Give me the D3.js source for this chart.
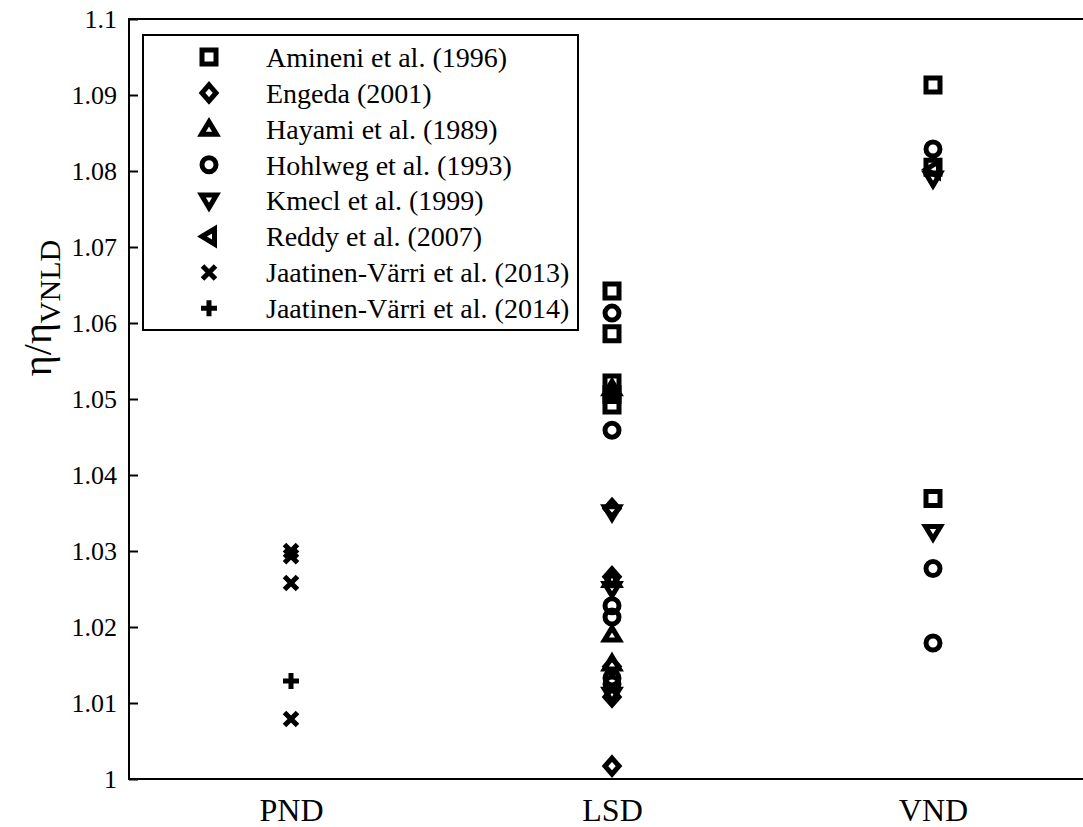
<!DOCTYPE html>
<html><head><meta charset="utf-8">
<script src="https://cdn.jsdelivr.net/npm/d3@7"></script>
<style>
html,body{margin:0;padding:0;background:#fff;}
svg{display:block;}
text{font-family:"Liberation Serif","Times New Roman",serif;fill:#000;}
</style></head>
<body>
<svg id="chart" width="1083" height="827"></svg>
<script>
// ---------- data ----------
const categories = ["PND", "LSD", "VND"];
const yTickValues = [1, 1.01, 1.02, 1.03, 1.04, 1.05, 1.06, 1.07, 1.08, 1.09, 1.1];
const yTickLabels = ["1", "1.01", "1.02", "1.03", "1.04", "1.05", "1.06", "1.07", "1.08", "1.09", "1.1"];
const seriesNames = ["Amineni et al. (1996)", "Engeda (2001)", "Hayami et al. (1989)", "Hohlweg et al. (1993)",
  "Kmecl et al. (1999)", "Reddy et al. (2007)", "Jaatinen-Värri et al. (2013)", "Jaatinen-Värri et al. (2014)"];
const seriesMarkers = ["square", "diamond", "triUp", "circle", "triDown", "triLeft", "cross", "plus"];

const amineniData = [["LSD",1.0642],["LSD",1.0586],["LSD",1.0521],["LSD",1.0506],["LSD",1.0492],
                     ["VND",1.0913],["VND",1.0805],["VND",1.0369]];
const engedaData  = [["LSD",1.0356],["LSD",1.0266],["LSD",1.0148],["LSD",1.0108],["LSD",1.0017]];
const hayamiData  = [["LSD",1.0514],["LSD",1.0262],["LSD",1.0190],["LSD",1.0152]];
const hohlwegData = [["LSD",1.0613],["LSD",1.0459],["LSD",1.0228],["LSD",1.0213],["LSD",1.0133],["LSD",1.0125],
                     ["VND",1.0829],["VND",1.0277],["VND",1.0179]];
const kmeclData   = [["LSD",1.0351],["LSD",1.0250],["LSD",1.0111],["VND",1.0790],["VND",1.0325]];
const reddyData   = [["VND",1.0802]];
const jaatinen2013Data = [["PND",1.0300],["PND",1.0293],["PND",1.0258],["PND",1.0079]];
const jaatinen2014Data = [["PND",1.0129]];
const seriesData = [amineniData, engedaData, hayamiData, hohlwegData, kmeclData, reddyData, jaatinen2013Data, jaatinen2014Data];

// ---------- layout ----------
const svg = d3.select("#chart");
const mLeft = 129, mRight = 1093, mTop = 19, mBottom = 779;

const x = d3.scalePoint().domain(categories).range([291, 933]);
const y = d3.scaleLinear().domain([1, 1.1]).range([mBottom, mTop]);

const markerShapes = {
  square: "M-7,-7H7V7H-7Z",
  diamond: "M0,-8L7,0L0,8L-7,0Z",
  triUp: "M0,-7L7.5,5.5L-7.5,5.5Z",
  triDown: "M0,7L7.5,-5.5L-7.5,-5.5Z",
  triLeft: "M-7,0L5.5,-7.5L5.5,7.5Z",
  circle: "M7,0A7,7 0 1,1 -7,0A7,7 0 1,1 7,0Z",
  cross: "M-6.5,-6.5L6.5,6.5M6.5,-6.5L-6.5,6.5",
  plus: "M0,-8V8M-8,0H8"
};
function drawMarker(g, type, cx, cy) {
  g.append("path")
    .attr("d", markerShapes[type])
    .attr("transform", `translate(${cx},${cy})`)
    .attr("fill", "none").attr("stroke", "#000")
    .attr("stroke-width", 5)
    .attr("stroke-linejoin", "miter");
}

// axes
const yAxisL = d3.axisLeft(y).tickValues(yTickValues).tickSize(-9).tickPadding(12)
  .tickFormat((d, i) => yTickLabels[i]);
const gL = svg.append("g").attr("transform", `translate(${mLeft},0)`).call(yAxisL);
gL.select(".domain").remove();
gL.selectAll(".tick line").attr("stroke", "#000").attr("stroke-width", 2);
gL.selectAll(".tick text").attr("font-size", 26).attr("font-family", "Liberation Serif").attr("dy", "0.34em");

const yAxisR = d3.axisRight(y).tickValues(yTickValues).tickSize(-9).tickFormat("");
const gR = svg.append("g").attr("transform", `translate(${mRight},0)`).call(yAxisR);
gR.select(".domain").remove();
gR.selectAll(".tick line").attr("stroke", "#000").attr("stroke-width", 2);

const xAxis = d3.axisBottom(x).tickSize(0).tickPadding(19);
const gX = svg.append("g").attr("transform", `translate(0,${mBottom})`).call(xAxis);
gX.select(".domain").remove();
gX.selectAll(".tick text").attr("font-size", 32).attr("font-family", "Liberation Serif").attr("dy", "0.71em");

// frame
svg.append("rect").attr("x", mLeft).attr("y", mTop).attr("width", mRight - mLeft).attr("height", mBottom - mTop)
  .attr("fill", "none").attr("stroke", "#000").attr("stroke-width", 2);

// y label
const yl = svg.append("text").attr("transform", "translate(51,308) rotate(-90)")
  .attr("text-anchor", "middle").attr("font-size", 40);
yl.append("tspan").text("η/η");
yl.append("tspan").attr("font-size", 30).attr("dy", 9).text("VNLD");

// data markers
const gM = svg.append("g");
seriesData.forEach((arr, si) => {
  arr.forEach(([c, v]) => drawMarker(gM, seriesMarkers[si], x(c), y(v)));
});

// legend
const lg = svg.append("g");
lg.append("rect").attr("x", 143).attr("y", 35).attr("width", 435).attr("height", 295)
  .attr("fill", "#fff").attr("stroke", "#000").attr("stroke-width", 2);
seriesNames.forEach((name, i) => {
  const cy = 57 + i * 35.9;
  drawMarker(lg, seriesMarkers[i], 209, cy);
  lg.append("text").attr("x", 266).attr("y", cy).attr("dy", "0.35em")
    .attr("font-size", 28).text(name);
});
</script>
</body></html>
